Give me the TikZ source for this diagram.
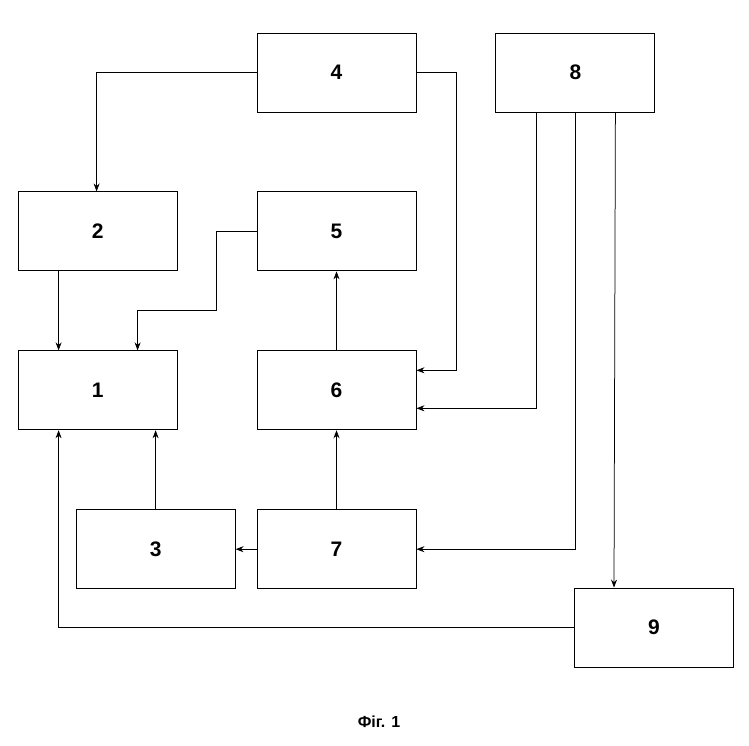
\documentclass[tikz,border=0pt]{standalone}
\usepackage{fontspec}
\setmainfont{Liberation Sans}
\usetikzlibrary{positioning,arrows.meta}

\begin{document}
\begin{tikzpicture}[x=1pt,y=-1pt,
	box/.style={
		draw, line width=0.9pt, align=center,
		minimum width=159pt,
		minimum height=79pt,
		inner sep=0pt,
		font=\fontsize{21}{24}\selectfont\bfseries
	},
	arr/.style={line width=0.75pt, -{Stealth[length=8pt,width=6pt]}}
	]
	\useasboundingbox (0,0) rectangle (749,746);
	\node[box] (b4) at (336.5,72.5) {4};
	\node[box, right=79pt of b4] (b8) {8};
	\node[box, below=79pt of b4] (b5) {5};
	\node[box, left=79pt of b5] (b2) {2};
	\node[box, below=79pt of b5] (b6) {6};
	\node[box, left=79pt of b6] (b1) {1};
	\node[box, below=79pt of b6] (b7) {7};
	\node[box, left=21pt of b7] (b3) {3};
	\node[box] (b9) at (654,627.5) {9};
	
	\node[font=\fontsize{16}{19}\selectfont\bfseries] (cap) at (379,722) {Фіг. 1};
	
	\draw[arr] (b4.west) -| ([xshift=-1pt]b2.north);
	\draw[arr] (b4.east) -- ++(40pt,0) |- ([yshift=20pt]b6.east);
	\draw[arr] ([xshift=-39pt]b8.south) |- ([yshift=-18pt]b6.east);
	\draw[arr] (b8.south) |- (b7.east);
	\draw[arr] ([xshift=40pt]b8.south) -- ([xshift=-40pt]b9.north);
	\draw[arr] ([xshift=-39pt]b2.south) -- ([xshift=-39pt]b1.north);
	\draw[arr] (b5.west) -- ++(-40pt,0) -- ++(0,-79pt) -| ([xshift=40pt]b1.north);
	\draw[arr] (b6.north) -- (b5.south);
	\draw[arr] (b7.north) -- (b6.south);
	\draw[arr] (b7.west) -- (b3.east);
	\draw[arr] (b3.north) -- (b3.north |- b1.south);
	\draw[arr] (b9.west) -| ([xshift=-39pt]b1.south);
\end{tikzpicture}
\end{document}
